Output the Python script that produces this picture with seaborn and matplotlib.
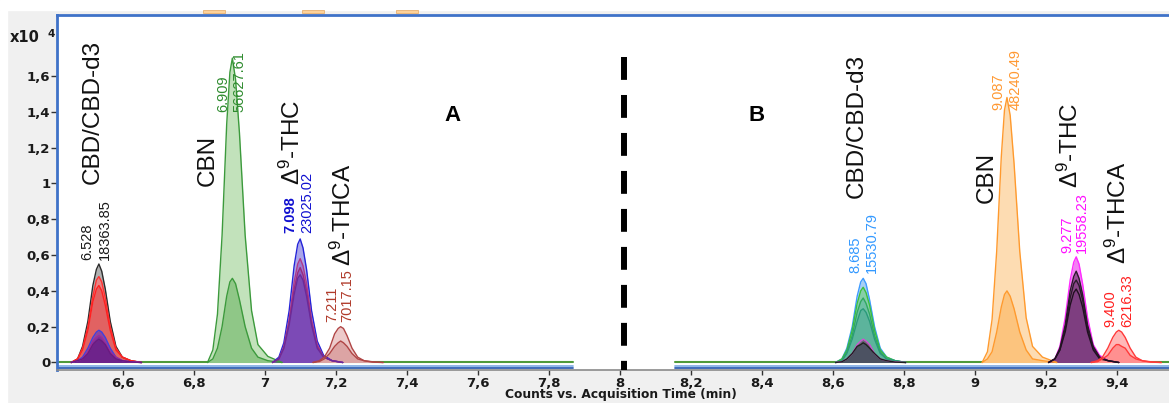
import matplotlib
matplotlib.use("Agg")
import matplotlib.pyplot as plt
import seaborn as sns
from matplotlib.patches import Rectangle

# ---------------- data (intensities in x10^4 counts) ----------------
# Panel A
t_a_cbd = [6.454, 6.472, 6.486, 6.501, 6.515, 6.525, 6.532, 6.540, 6.550, 6.564, 6.580, 6.598, 6.622, 6.652]
a_cbd_black = [0, 0.02, 0.09, 0.23, 0.43, 0.52, 0.55, 0.51, 0.41, 0.23, 0.09, 0.03, 0.01, 0]
a_cbd_red1 = [0, 0.02, 0.08, 0.20, 0.37, 0.46, 0.48, 0.45, 0.36, 0.20, 0.08, 0.03, 0.01, 0]
a_cbd_red2 = [0, 0.02, 0.07, 0.18, 0.34, 0.41, 0.43, 0.40, 0.32, 0.18, 0.07, 0.03, 0.01, 0]
a_cbd_blue = [0, 0.01, 0.03, 0.08, 0.14, 0.17, 0.18, 0.17, 0.14, 0.08, 0.03, 0.01, 0.004, 0]
a_cbd_purple1 = [0, 0.01, 0.02, 0.06, 0.12, 0.14, 0.15, 0.14, 0.11, 0.06, 0.03, 0.01, 0.003, 0]
a_cbd_purple2 = [0, 0.01, 0.02, 0.05, 0.10, 0.12, 0.13, 0.12, 0.10, 0.05, 0.02, 0.01, 0.003, 0]

t_a_cbn = [6.838, 6.853, 6.866, 6.879, 6.892, 6.901, 6.908, 6.917, 6.928, 6.944, 6.962, 6.980, 7.008, 7.048]
a_cbn_big = [0, 0.07, 0.27, 0.71, 1.33, 1.62, 1.70, 1.58, 1.28, 0.71, 0.29, 0.10, 0.034, 0]
a_cbn_small = [0, 0.02, 0.08, 0.20, 0.37, 0.45, 0.47, 0.44, 0.35, 0.20, 0.08, 0.03, 0.01, 0]

t_a_thc = [7.021, 7.039, 7.053, 7.068, 7.082, 7.092, 7.099, 7.107, 7.117, 7.131, 7.147, 7.165, 7.189, 7.219]
a_thc_blue = [0, 0.03, 0.11, 0.29, 0.54, 0.66, 0.69, 0.64, 0.52, 0.29, 0.12, 0.04, 0.01, 0]
a_thc_mid1 = [0, 0.02, 0.09, 0.24, 0.45, 0.55, 0.58, 0.54, 0.44, 0.24, 0.10, 0.03, 0.01, 0]
a_thc_mid2 = [0, 0.02, 0.08, 0.22, 0.41, 0.50, 0.53, 0.49, 0.40, 0.22, 0.09, 0.03, 0.01, 0]
a_thc_low = [0, 0.02, 0.08, 0.21, 0.38, 0.47, 0.49, 0.46, 0.37, 0.21, 0.08, 0.03, 0.01, 0]

t_a_thca = [7.135, 7.153, 7.167, 7.182, 7.196, 7.206, 7.213, 7.221, 7.231, 7.245, 7.261, 7.279, 7.303, 7.333]
a_thca_high = [0, 0.01, 0.03, 0.08, 0.16, 0.19, 0.20, 0.19, 0.15, 0.08, 0.03, 0.01, 0.004, 0]
a_thca_low = [0, 0.005, 0.02, 0.05, 0.09, 0.11, 0.12, 0.11, 0.09, 0.05, 0.02, 0.01, 0.002, 0]

# Panel B
t_b_cbd = [8.607, 8.625, 8.639, 8.654, 8.668, 8.678, 8.685, 8.693, 8.703, 8.717, 8.733, 8.751, 8.775, 8.805]
b_cbd_lightblue = [0, 0.02, 0.08, 0.20, 0.37, 0.45, 0.47, 0.44, 0.35, 0.20, 0.08, 0.03, 0.01, 0]
b_cbd_green1 = [0, 0.02, 0.07, 0.18, 0.33, 0.40, 0.42, 0.39, 0.32, 0.18, 0.07, 0.03, 0.01, 0]
b_cbd_green2 = [0, 0.01, 0.06, 0.15, 0.28, 0.34, 0.36, 0.33, 0.27, 0.15, 0.06, 0.02, 0.01, 0]
b_cbd_teal = [0, 0.01, 0.05, 0.13, 0.23, 0.29, 0.30, 0.28, 0.23, 0.13, 0.05, 0.02, 0.01, 0]
b_cbd_magenta = [0, 0.005, 0.02, 0.05, 0.10, 0.12, 0.13, 0.12, 0.10, 0.05, 0.02, 0.01, 0.003, 0]
b_cbd_black = [0, 0.004, 0.02, 0.05, 0.09, 0.10, 0.11, 0.10, 0.08, 0.05, 0.02, 0.01, 0.002, 0]

t_b_cbn = [9.020, 9.035, 9.048, 9.061, 9.074, 9.083, 9.090, 9.099, 9.110, 9.126, 9.144, 9.162, 9.190, 9.230]
b_cbn_big = [0, 0.06, 0.24, 0.62, 1.15, 1.41, 1.48, 1.38, 1.11, 0.62, 0.25, 0.09, 0.03, 0]
b_cbn_small = [0, 0.02, 0.06, 0.17, 0.31, 0.38, 0.40, 0.37, 0.30, 0.17, 0.07, 0.02, 0.01, 0]

t_b_thc = [9.207, 9.225, 9.239, 9.254, 9.268, 9.278, 9.285, 9.293, 9.303, 9.317, 9.333, 9.351, 9.375, 9.405]
b_thc_magenta = [0, 0.02, 0.09, 0.25, 0.46, 0.56, 0.59, 0.55, 0.44, 0.25, 0.10, 0.04, 0.01, 0]
b_thc_black1 = [0, 0.02, 0.08, 0.21, 0.40, 0.48, 0.51, 0.47, 0.38, 0.21, 0.09, 0.03, 0.01, 0]
b_thc_black2 = [0, 0.02, 0.07, 0.19, 0.36, 0.44, 0.46, 0.43, 0.35, 0.19, 0.08, 0.03, 0.01, 0]
b_thc_black3 = [0, 0.02, 0.07, 0.17, 0.32, 0.39, 0.41, 0.38, 0.31, 0.17, 0.07, 0.02, 0.01, 0]

t_b_thca = [9.327, 9.345, 9.359, 9.374, 9.388, 9.398, 9.405, 9.413, 9.423, 9.437, 9.453, 9.471, 9.495, 9.525]
b_thca_high = [0, 0.01, 0.03, 0.08, 0.14, 0.17, 0.18, 0.17, 0.14, 0.08, 0.03, 0.01, 0.004, 0]
b_thca_low = [0, 0.004, 0.02, 0.04, 0.08, 0.10, 0.10, 0.09, 0.08, 0.04, 0.02, 0.01, 0.002, 0]

# baselines (acquired segments)
base_a_t = [6.414, 7.868]
base_b_t = [8.155, 9.547]
base_vals = [0, 0]
base_blue1 = [-0.020, -0.020]
base_blue2 = [-0.031, -0.031]

# peak labels
rt_labels = ["6.528", "6.909", "7.098", "7.211", "8.685", "9.087", "9.277", "9.400"]
area_labels = ["18363.85", "56627.61", "23025.02", "7017.15", "15530.79", "48240.49", "19558.23", "6216.33"]
compound_names = ["CBD/CBD-d3", "CBN", r"$\mathrm{\Delta^{9}}$-THC", r"$\mathrm{\Delta^{9}}$-THCA",
                  "CBD/CBD-d3", "CBN", r"$\mathrm{\Delta^{9}}$-THC", r"$\mathrm{\Delta^{9}}$-THCA"]
panel_names = ["A", "B"]
divider_time = 8.012

x_tick_values = [6.6, 6.8, 7.0, 7.2, 7.4, 7.6, 7.8, 8.0, 8.2, 8.4, 8.6, 8.8, 9.0, 9.2, 9.4]
x_tick_labels = ["6,6", "6,8", "7", "7,2", "7,4", "7,6", "7,8", "8", "8,2", "8,4", "8,6", "8,8", "9", "9,2", "9,4"]
y_tick_values = [0, 0.2, 0.4, 0.6, 0.8, 1.0, 1.2, 1.4, 1.6]
y_tick_labels = ["0", "0,2", "0,4", "0,6", "0,8", "1", "1,2", "1,4", "1,6"]

# ---------------- styling ----------------
sns.set_style("white")
plt.rcParams['font.family'] = ['Liberation Sans', 'DejaVu Sans']
plt.rcParams['mathtext.fontset'] = 'custom'
plt.rcParams['mathtext.rm'] = 'Liberation Sans'
plt.rcParams['mathtext.it'] = 'Liberation Sans:italic'
plt.rcParams['mathtext.bf'] = 'Liberation Sans:bold'

fig = plt.figure(figsize=(11.69, 4.03), dpi=100, facecolor='#f0f0f0')
# window decorations
fig.patches.append(Rectangle((0, 393 / 403), 1, 10 / 403, transform=fig.transFigure, color='white', zorder=0))
fig.patches.append(Rectangle((0, 0), 7 / 1169, 393 / 403, transform=fig.transFigure, color='white', zorder=0))
for x0 in (203, 302, 396):
    fig.patches.append(Rectangle((x0 / 1169, 390 / 403), 22 / 1169, 3 / 403, transform=fig.transFigure,
                                 facecolor='#fdd29a', edgecolor='#e8b070', lw=0.6, zorder=1))

ax = fig.add_axes([57 / 1169, 33 / 403, 1112 / 1169, 355 / 403])
ax.set_facecolor('white')

# baselines
for bt in (base_a_t, base_b_t):
    sns.lineplot(x=bt, y=base_blue2, color='#2f5fb3', lw=1.3, ax=ax, zorder=1)
    sns.lineplot(x=bt, y=base_blue1, color='#86b0e6', lw=1.3, ax=ax, zorder=1)
    sns.lineplot(x=bt, y=base_vals, color='#4f9a3a', lw=1.5, ax=ax, zorder=1)

peak_groups = [
    (t_a_cbd, [(a_cbd_black, '#2b2b2b', '#a8a8a8', 0.9),
               (a_cbd_red1, '#ff3030', '#f08080', 0.9),
               (a_cbd_red2, '#ff2020', '#e05a5a', 0.8),
               (a_cbd_blue, '#4040e0', '#8040a8', 0.85),
               (a_cbd_purple1, '#9a2a9a', '#7a2a98', 0.8),
               (a_cbd_purple2, '#6a1a80', '#6a2088', 0.8)]),
    (t_a_cbn, [(a_cbn_big, '#3c9a3c', '#c2e2bb', 1.0),
               (a_cbn_small, '#3c9a3c', '#8fc787', 1.0)]),
    (t_a_thc, [(a_thc_blue, '#2424d8', '#aaa6ea', 1.0),
               (a_thc_mid1, '#b03a8a', '#9a78d0', 0.9),
               (a_thc_mid2, '#9a2a80', '#8a5cc0', 0.9),
               (a_thc_low, '#6a2a9a', '#7c4ab6', 1.0)]),
    (t_a_thca, [(a_thca_high, '#b04545', '#edcaca', 1.0),
                (a_thca_low, '#b04545', '#dca4a4', 1.0)]),
    (t_b_cbd, [(b_cbd_lightblue, '#3d9bff', '#a8cff5', 1.0),
               (b_cbd_green1, '#3cc03c', '#84d0a0', 0.9),
               (b_cbd_green2, '#30a860', '#6cc0a4', 0.9),
               (b_cbd_teal, '#2a9a7a', '#5cb49c', 1.0),
               (b_cbd_magenta, '#d050d0', '#6a6474', 1.0),
               (b_cbd_black, '#202020', '#4c5262', 1.0)]),
    (t_b_cbn, [(b_cbn_big, '#ff9a2e', '#fddcb2', 1.0),
               (b_cbn_small, '#ff9a2e', '#fcc47e', 1.0)]),
    (t_b_thc, [(b_thc_magenta, '#ff2aff', '#f282f2', 1.0),
               (b_thc_black1, '#2a1a2a', '#9a4c9a', 1.0),
               (b_thc_black2, '#2a1a2a', '#8a4688', 1.0),
               (b_thc_black3, '#201020', '#7e3e80', 1.0)]),
    (t_b_thca, [(b_thca_high, '#ff3a3a', '#ffb8b8', 1.0),
                (b_thca_low, '#ff3a3a', '#ff9090', 1.0)]),
]

for t, traces in peak_groups:
    for vals, lc, fc, fa in traces:
        ax.fill_between(t, 0, vals, color=fc, alpha=fa, lw=0, zorder=2)
        sns.lineplot(x=t, y=vals, color=lc, lw=1.0, ax=ax, zorder=3)

# divider
ax.plot([divider_time, divider_time], [1.706, -0.045], color='black', lw=4.3,
        dashes=(3.83, 2.53), solid_capstyle='butt', dash_capstyle='butt', zorder=5)

# annotations (retention time + area), rotated
rt_pos = [(6.4985, 0.573), (6.881, 1.40), (7.070, 0.723), (7.189, 0.227),
          (8.662, 0.50), (9.067, 1.41), (9.259, 0.611), (9.380, 0.198)]
area_pos = [(6.549, 0.573), (6.927, 1.40), (7.120, 0.723), (7.231, 0.227),
            (8.710, 0.50), (9.115, 1.41), (9.301, 0.611), (9.428, 0.198)]
ann_colors = ['#1a1a1a', '#2e8b2e', '#1010d0', '#b03a2a', '#3399ff', '#ff9933', '#ff10ff', '#ff2020']
rt_weights = ['normal', 'normal', 'bold', 'normal', 'normal', 'normal', 'normal', 'normal']
for i in range(len(rt_labels)):
    ax.text(rt_pos[i][0], rt_pos[i][1], rt_labels[i], rotation=90, ha='center', va='bottom',
            color=ann_colors[i], fontsize=10.5, fontweight=rt_weights[i], zorder=6)
    ax.text(area_pos[i][0], area_pos[i][1], area_labels[i], rotation=90, ha='center', va='bottom',
            color=ann_colors[i], fontsize=10.5, zorder=6)

name_pos = [(6.515, 1.397), (6.839, 1.126), (7.076, 1.232), (7.220, 0.827),
            (8.668, 1.321), (9.034, 1.031), (9.268, 1.215), (9.403, 0.835)]
for name, (xp, yp) in zip(compound_names, name_pos):
    ax.text(xp, yp, name, rotation=90, ha='center', va='center', fontsize=17.5, color='#111111', zorder=6)

panel_pos = [(7.529, 1.38), (8.386, 1.38)]
for name, (xp, yp) in zip(panel_names, panel_pos):
    ax.text(xp, yp, name, ha='center', va='center', fontsize=16, fontweight='bold', color='black', zorder=6)

# axes
ax.set_xlim(6.414, 9.5464)
ax.set_ylim(-0.0419, 1.9406)
ax.set_xticks(x_tick_values)
ax.set_xticklabels(x_tick_labels, fontweight='bold', fontsize=9.5, family='DejaVu Sans', color='#1a1a1a')
ax.set_yticks(y_tick_values)
ax.set_yticklabels(y_tick_labels, fontweight='bold', fontsize=9.5, family='DejaVu Sans', color='#1a1a1a')
ax.tick_params(axis='x', direction='out', length=3.5, width=1, color='#333333', pad=1.5, bottom=True)
ax.tick_params(axis='y', direction='out', length=4, width=1, color='#333333', pad=0.8, left=True)

for side in ('left', 'top'):
    ax.spines[side].set_color('#3f72c8')
    ax.spines[side].set_linewidth(2)
ax.spines['right'].set_visible(False)
ax.spines['bottom'].set_color('#8a8a8a')
ax.spines['bottom'].set_linewidth(1.2)

ax.set_xlabel("Counts vs. Acquisition Time (min)", fontweight='bold', fontsize=8.8,
              family='DejaVu Sans', color='#1a1a1a')
ax.xaxis.set_label_coords(0.507, -0.0704)
ax.xaxis.label.set_va('center')
ax.set_ylabel("")

fig.text(10 / 1169, 1 - 38 / 403, "x10", fontweight='bold', fontsize=10.5, family='DejaVu Sans',
         ha='left', va='center', color='#1a1a1a')
fig.text(47 / 1169, 1 - 34 / 403, "4", fontweight='bold', fontsize=7.5, family='DejaVu Sans',
         ha='left', va='center', color='#1a1a1a')

fig.savefig("out.png", dpi=100, facecolor=fig.get_facecolor())
